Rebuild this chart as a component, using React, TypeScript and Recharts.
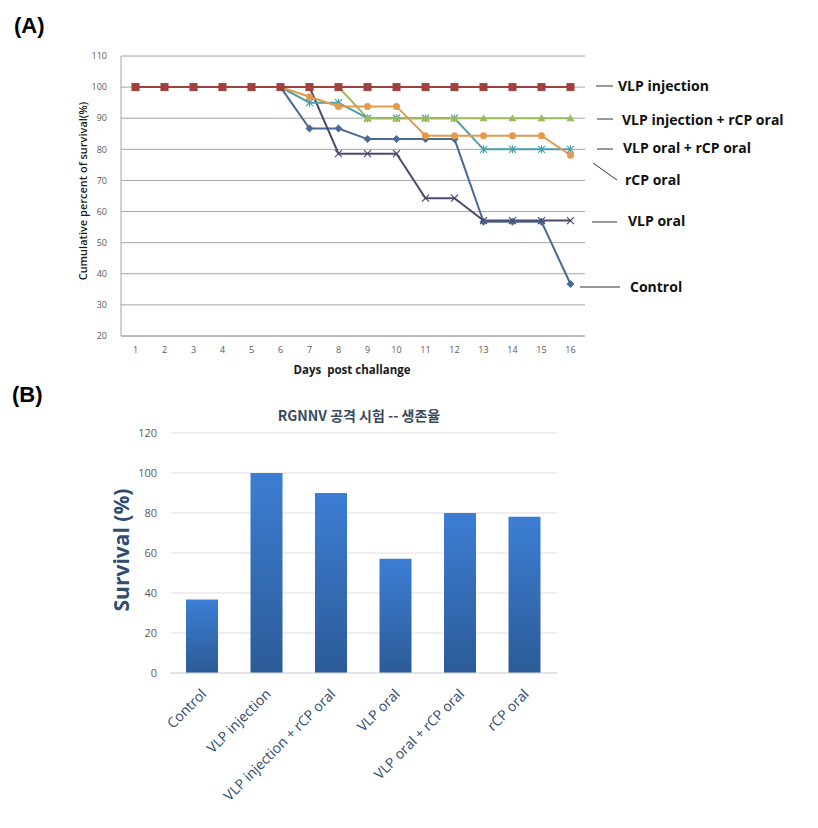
import React from "react";
import { LineChart, Line, BarChart, Bar, CartesianGrid, XAxis, YAxis } from "recharts";

const days = ["1", "2", "3", "4", "5", "6", "7", "8", "9", "10", "11", "12", "13", "14", "15", "16"];

const vlpInjection = [100, 100, 100, 100, 100, 100, 100, 100, 100, 100, 100, 100, 100, 100, 100, 100];
const vlpInjRcp = [100, 100, 100, 100, 100, 100, 100, 100, 90, 90, 90, 90, 90, 90, 90, 90];
const vlpOralRcp = [100, 100, 100, 100, 100, 100, 95, 95, 90, 90, 90, 90, 80, 80, 80, 80];
const rcpOral = [100, 100, 100, 100, 100, 100, 96.9, 93.8, 93.8, 93.8, 84.4, 84.4, 84.4, 84.4, 84.4, 78.1];
const control = [100, 100, 100, 100, 100, 100, 86.7, 86.7, 83.3, 83.3, 83.3, 83.3, 56.7, 56.7, 56.7, 36.7];
const vlpOral = [100, 100, 100, 100, 100, 100, 100, 78.6, 78.6, 78.6, 64.3, 64.3, 57.1, 57.1, 57.1, 57.1];

const yTicksA = [20, 30, 40, 50, 60, 70, 80, 90, 100, 110];

const groups = ["Control", "VLP injection", "VLP injection + rCP oral", "VLP oral", "VLP oral + rCP oral", "rCP oral"];
const survival = [36.7, 100, 90, 57.1, 80, 78.1];
const yTicksB = [0, 20, 40, 60, 80, 100, 120];

const lineData = days.map((d, i) => ({
  day: d,
  vlpInjection: vlpInjection[i],
  vlpInjRcp: vlpInjRcp[i],
  vlpOralRcp: vlpOralRcp[i],
  rcpOral: rcpOral[i],
  control: control[i],
  vlpOral: vlpOral[i],
}));

const barData = groups.map((g, i) => ({ group: g, survival: survival[i] }));

type Shape = "square" | "triangle" | "star" | "circle" | "diamond" | "x";

const marker = (shape: Shape, color: string) => (props: any) => {
  const { cx, cy, index } = props;
  const k = `${shape}-${index}`;
  if (cx == null || cy == null) return <g key={k} />;
  switch (shape) {
    case "square":
      return <rect key={k} x={cx - 3.5} y={cy - 3.5} width={7} height={7} fill={color} stroke={color} />;
    case "triangle":
      return <path key={k} d={`M${cx},${cy - 4} L${cx + 4},${cy + 3} L${cx - 4},${cy + 3} Z`} fill={color} />;
    case "circle":
      return <circle key={k} cx={cx} cy={cy} r={3.5} fill={color} />;
    case "diamond":
      return <path key={k} d={`M${cx},${cy - 4} L${cx + 4},${cy} L${cx},${cy + 4} L${cx - 4},${cy} Z`} fill={color} />;
    case "x":
      return (
        <path key={k} d={`M${cx - 3.5},${cy - 3.5} L${cx + 3.5},${cy + 3.5} M${cx - 3.5},${cy + 3.5} L${cx + 3.5},${cy - 3.5}`} stroke={color} strokeWidth={1.2} />
      );
    default:
      return (
        <path
          key={k}
          d={`M${cx - 3.5},${cy - 3.5} L${cx + 3.5},${cy + 3.5} M${cx - 3.5},${cy + 3.5} L${cx + 3.5},${cy - 3.5} M${cx},${cy - 4} L${cx},${cy + 4}`}
          stroke={color}
          strokeWidth={1.2}
        />
      );
  }
};

// drawing order: last one ends up on top
const series: { key: string; color: string; shape: Shape }[] = [
  { key: "control", color: "#4a6898", shape: "diamond" },
  { key: "vlpOral", color: "#4c4a6c", shape: "x" },
  { key: "vlpOralRcp", color: "#4aa0aa", shape: "star" },
  { key: "vlpInjRcp", color: "#9bbb59", shape: "triangle" },
  { key: "rcpOral", color: "#e49a4a", shape: "circle" },
  { key: "vlpInjection", color: "#a0403f", shape: "square" },
];

const BarTick = (props: any) => {
  const { x, y, payload } = props;
  const ax = x + 5;
  const ay = y + 14;
  return (
    <text
      x={ax}
      y={ay}
      transform={`rotate(-45 ${ax} ${ay})`}
      textAnchor="end"
      fontSize={14}
      fill="#2f4b6e"
      fontFamily="'Open Sans', 'Noto Sans', sans-serif"
    >
      {payload.value}
    </text>
  );
};

const notes = [
  { text: "VLP injection", x1: 596, y1: 86, x2: 613, y2: 86, tx: 618, ty: 91 },
  { text: "VLP injection + rCP oral", x1: 597, y1: 119, x2: 613, y2: 119, tx: 622, ty: 125 },
  { text: "VLP oral + rCP oral", x1: 597, y1: 149, x2: 613, y2: 149, tx: 623, ty: 153 },
  { text: "rCP oral", x1: 593, y1: 163, x2: 617, y2: 180, tx: 625, ty: 185 },
  { text: "VLP oral", x1: 592, y1: 222, x2: 617, y2: 222, tx: 628, ty: 226 },
  { text: "Control", x1: 580, y1: 287, x2: 620, y2: 287, tx: 630, ty: 292 },
];

const sans = "'Open Sans', 'Noto Sans', sans-serif";

export default function App() {
  return (
    <div style={{ position: "absolute", left: 0, top: 0, width: 818, height: 828, background: "#fff" }}>
      <div style={{ position: "absolute", left: 60, top: 40 }}>
        <LineChart width={540} height={340} data={lineData} margin={{ top: 16, right: 15, left: 0, bottom: 0 }}>
          <CartesianGrid vertical={false} stroke="#a6a6a6" />
          <XAxis
            dataKey="day"
            padding={{ left: 14.5, right: 14.5 }}
            tickSize={0}
            tickMargin={11}
            stroke="#a6a6a6"
            tick={{ fontSize: 9, fill: "#595959", fontFamily: sans }}
            height={44}
          />
          <YAxis
            domain={[20, 110]}
            ticks={yTicksA}
            interval={0}
            tickSize={0}
            tickMargin={14}
            width={61}
            stroke="#a6a6a6"
            tick={{ fontSize: 9, fill: "#595959", fontFamily: sans }}
          />
          {series.map((s) => (
            <Line
              key={s.key}
              type="linear"
              dataKey={s.key}
              stroke={s.color}
              strokeWidth={2}
              dot={marker(s.shape, s.color)}
              activeDot={false}
              isAnimationActive={false}
            />
          ))}
        </LineChart>
      </div>

      <div style={{ position: "absolute", left: 100, top: 395 }}>
        <BarChart width={470} height={430} data={barData} margin={{ top: 38, right: 13, left: 0, bottom: 0 }}>
          <defs>
            <linearGradient id="barFill" x1="0" y1="0" x2="0" y2="1">
              <stop offset="0%" stopColor="#3c7ed4" />
              <stop offset="100%" stopColor="#2c5b97" />
            </linearGradient>
          </defs>
          <CartesianGrid vertical={false} stroke="#e0e0e0" />
          <XAxis dataKey="group" interval={0} tickLine={false} stroke="#d9d9d9" height={152} tick={<BarTick />} />
          <YAxis
            domain={[0, 120]}
            ticks={yTicksB}
            interval={0}
            axisLine={false}
            tickLine={false}
            tickSize={0}
            tickMargin={13}
            width={70}
            tick={{ fontSize: 11, fill: "#595959", fontFamily: sans }}
          />
          <Bar dataKey="survival" fill="url(#barFill)" barSize={32} isAnimationActive={false} />
        </BarChart>
      </div>

      <svg width={818} height={828} style={{ position: "absolute", left: 0, top: 0, pointerEvents: "none" }}>
        <text x={14} y={33} fontSize={22} fontWeight={700} fontFamily="'Liberation Sans', Arial, sans-serif" fill="#000">
          (A)
        </text>
        <text x={12} y={402} fontSize={22} fontWeight={700} fontFamily="'Liberation Sans', Arial, sans-serif" fill="#000">
          (B)
        </text>
        <text
          x={87}
          y={191}
          transform="rotate(-90 87 191)"
          textAnchor="middle"
          fontSize={11}
          fontWeight={600}
          fill="#1a1a1a"
          fontFamily={sans}
        >
          Cumulative percent of survival(%)
        </text>
        <text x={352} y={374} textAnchor="middle" fontSize={11.5} fontWeight={700} fill="#1a1a1a" fontFamily={sans}>
          {"Days\u00a0\u00a0post challange"}
        </text>
        <text
          x={129}
          y={550}
          transform="rotate(-90 129 550)"
          textAnchor="middle"
          fontSize={21}
          fontWeight={700}
          fill="#2f4d70"
          fontFamily={sans}
        >
          Survival (%)
        </text>
        {notes.map((n) => (
          <g key={n.text}>
            <line x1={n.x1} y1={n.y1} x2={n.x2} y2={n.y2} stroke="#333" strokeWidth={1} />
            <text x={n.tx} y={n.ty} fontSize={14} fontWeight={700} fill="#111" fontFamily={sans}>
              {n.text}
            </text>
          </g>
        ))}
        <text
          x={359}
          y={421}
          textAnchor="middle"
          fontSize={14}
          fontWeight={700}
          fill="#3a4a5e"
          fontFamily="'Noto Sans CJK KR', 'Noto Sans', sans-serif"
        >
          RGNNV 공격 시험 -- 생존율
        </text>
      </svg>
    </div>
  );
}
